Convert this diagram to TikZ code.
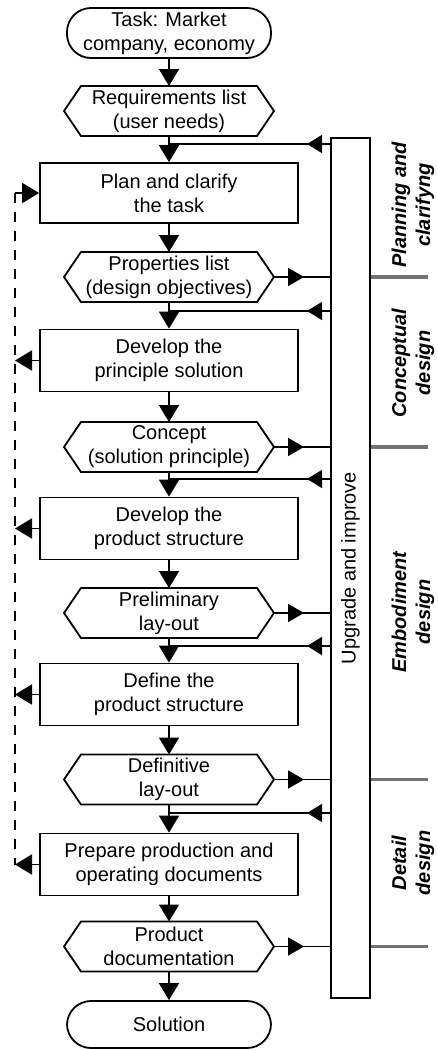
\documentclass[tikz,border=0pt]{standalone}
\usepackage{fontspec}
\setmainfont{Liberation Sans}
\usetikzlibrary{arrows.meta,decorations.markings}

\begin{document}
\begin{tikzpicture}[x=0.5pt, y=-0.5pt, line width=0.9pt,
    term/.style={draw, rounded corners=12pt, minimum width=102pt, minimum height=25pt, align=center, inner sep=1pt},
    listbox/.style={minimum width=105pt, minimum height=25pt, align=center, inner sep=1pt, outer sep=0pt},
    stepbox/.style={draw, minimum width=129pt, minimum height=31pt, align=center, inner sep=1pt},
    arr/.style={-{Triangle[width=10pt,length=8.5pt]}},
    sendarr/.style={postaction={decorate}, decoration={markings,
        mark=at position 15pt with {\arrow{Triangle[width=9pt,length=8pt]}}}},
    backarr/.style={postaction={decorate}, decoration={markings,
        mark=at position 11.5pt with {\arrow{Triangle[width=9pt,length=7.5pt]}}}},
    phaseline/.style={line width=1.6pt, black!55},
    phase/.style={rotate=90, align=center, font=\bfseries\itshape}]
\useasboundingbox (0,0) rectangle (438,1050);

% Main column
\node[term] (task) at (169,33) {Task: Market\\company, economy};
\node[listbox] (req) at (169,111) {Requirements list\\(user needs)};
\node[stepbox, minimum height=30pt] (plan) at (169,193) {Plan and clarify\\the task};
\node[listbox] (prop) at (169,277) {Properties list\\(design objectives)};
\node[stepbox] (princ) at (169,360.5) {Develop the\\principle solution};
\node[listbox] (conc) at (169,447) {Concept\\(solution principle)};
\node[stepbox] (struct) at (169,528.5) {Develop the\\product structure};
\node[listbox] (prelim) at (169,613) {Preliminary\\lay-out};
\node[stepbox] (define) at (169,694.5) {Define the\\product structure};
\node[listbox] (defin) at (169,779.5) {Definitive\\lay-out};
\node[stepbox] (prep) at (169,864.5) {Prepare production and\\operating documents};
\node[listbox] (doc) at (169,946.5) {Product\\documentation};
\node[term, minimum height=23.5pt] (sol) at (169,1024.5) {Solution};

% Hexagon outlines of the lists
\foreach \n in {req, prop, conc, prelim, defin, doc} {
    \draw (\n.west) -- ([xshift=8.5pt]\n.north west) -- ([xshift=-8.5pt]\n.north east)
        -- (\n.east) -- ([xshift=-8.5pt]\n.south east) -- ([xshift=8.5pt]\n.south west) -- cycle;
}

% Downward arrows
\foreach \a/\b in {task/req, req/plan, plan/prop, prop/princ, princ/conc, conc/struct,
    struct/prelim, prelim/define, define/defin, defin/prep, prep/doc, doc/sol} {
    \draw[arr] (\a) -- (\b);
}

% Upgrade bar
\node[draw, minimum width=19.5pt, minimum height=430pt, inner sep=0pt] (bar) at (350.5,568) {};
\node[rotate=90] at (bar.center) {Upgrade and improve};

% Results sent to the bar
\foreach \n in {prop, conc, prelim, defin, doc} {
    \draw[sendarr] (\n.east) -- (\n.east -| bar.west);
}

% Feedback from the bar
\foreach \y in {144, 311, 479, 646, 813} {
    \coordinate (fb) at (169,\y);
    \draw[backarr] (bar.west |- fb) -- (fb);
}

% Iteration loop on the left
\coordinate (side) at (15,0);
\draw[dash pattern=on 5pt off 4.5pt] (plan.west -| side) -- (prep.west -| side);
\draw[arr] (plan.west -| side) -- (plan.west);
\foreach \n in {princ, struct, define, prep} {
    \draw[arr] (\n.west) -- (\n.west -| side);
}

% Phase borders and labels
\foreach \n in {prop, conc, defin, doc} {
    \draw[phaseline] (bar.east |- \n.east) -- ++(57,0);
}
\node[phase] at (413,205) {Planning and\\clarifyng};
\node[phase] at (413,363) {Conceptual\\design};
\node[phase] at (413,612) {Embodiment\\design};
\node[phase] at (413,863) {Detail\\design};
\end{tikzpicture}
\end{document}
